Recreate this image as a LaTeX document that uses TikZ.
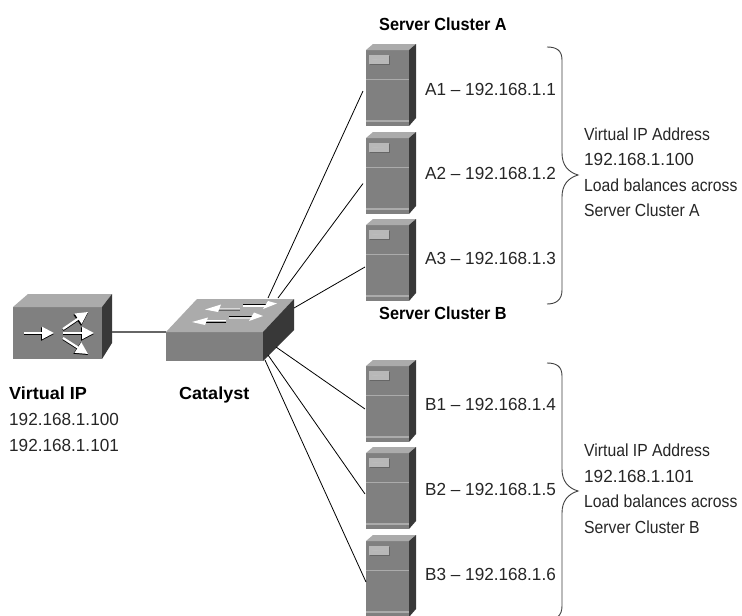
\documentclass[tikz,border=0pt]{standalone}
\usepackage{fontspec}
\setmainfont[FakeStretch=0.9]{Liberation Sans}
\newfontfamily\numfont[FakeStretch=0.98]{Liberation Sans}
\newfontfamily\headfont[FakeStretch=0.93]{Liberation Sans}
\newfontfamily\wideboldfont[FakeStretch=1.03]{Liberation Sans}
\usetikzlibrary{arrows.meta}
\definecolor{frontc}{HTML}{808080}
\definecolor{topc}{HTML}{ABABAB}
\definecolor{sidec}{HTML}{383838}
\definecolor{txtc}{HTML}{262626}
\tikzset{
  face/.style={fill=frontc,draw=none,inner sep=0pt,outer sep=0pt},
  txt/.style={anchor=base west,inner sep=0pt,text=txtc,font=\fontsize{17.5}{20}\selectfont},
  ntxt/.style={anchor=base west,inner sep=0pt,text=txtc,font=\fontsize{17.5}{20}\numfont},
  btxt/.style={anchor=base west,inner sep=0pt,text=black,font=\fontsize{17.5}{20}\headfont\bfseries},
  wbtxt/.style={anchor=base west,inner sep=0pt,text=black,font=\fontsize{17.5}{20}\wideboldfont\bfseries},
  linkline/.style={draw=black,line width=0.8pt},
  bracel/.style={draw=black!75,line width=0.9pt},
}
% name, x of front left, y of front top
\newcommand{\srv}[3]{%
  \node[face,minimum width=43pt,minimum height=76pt] (#1) at (#2+21.5,#3+38) {};
  \fill[topc] (#2,#3) -- (#2+7,#3-6) -- (#2+50,#3-6) -- (#2+43,#3) -- cycle;
  \fill[sidec] (#2+43,#3) -- (#2+50,#3-6) -- (#2+50,#3+68) -- (#2+43,#3+76) -- cycle;
  \fill[black!60] (#2+3.5,#3+5.5) rectangle (#2+23.5,#3+14.5);
  \fill[black!28] (#2+3,#3+5) rectangle (#2+22.5,#3+13.5);
  \draw[white!75!black,line width=0.4pt] (#2+6,#3+9.5) -- (#2+19,#3+9);
  \draw[topc,line width=0.8pt] (#2,#3+29.5) -- (#2+43,#3+29.5);
  \draw[topc,line width=1.2pt] (#2,#3+71) -- (#2+43,#3+71);
}
% brace: tip y
\newcommand{\brc}[1]{%
  \draw[bracel] (547,#1-128) .. controls (556,#1-128) and (562,#1-125) .. (562,#1-115)
    -- (562,#1-22) .. controls (562,#1-10) and (568,#1-3) .. (578,#1)
    .. controls (568,#1+3) and (562,#1+10) .. (562,#1+22)
    -- (562,#1+115) .. controls (562,#1+125) and (556,#1+129) .. (547,#1+129);
}
% white arrow with dark edge
\newcommand{\arw}[4]{%
  \draw[black,line width=2.2pt,-{Triangle[length=13pt,width=13pt]}] (#1,#2+1) -- (#3,#4+1);
  \draw[white,line width=2.2pt,-{Triangle[length=12pt,width=12pt]}] (#1,#2) -- (#3,#4);
}
\begin{document}
\begin{tikzpicture}[x=1pt,y=-1pt]
\useasboundingbox (0,0) rectangle (742,616);
\clip (0,0) rectangle (742,616);
\fill[white] (0,0) rectangle (742,616);

% load balancer
\node[face,minimum width=88.5pt,minimum height=52pt] (lb) at (57.5,333) {};
\fill[topc] (13,307) -- (28,294) -- (112,294) -- (102,307) -- cycle;
\fill[sidec] (102,307) -- (112,294) -- (112,343) -- (102,359) -- cycle;
\arw{24}{333}{54}{333}
\arw{63}{329}{88}{312}
\arw{63}{333}{94}{333}
\arw{63}{338}{88}{354}

% catalyst
\node[face,minimum width=97pt,minimum height=29pt] (catalyst) at (214.5,346.5) {};
\fill[topc] (166,332) -- (197,299) -- (294,299) -- (263,332) -- cycle;
\fill[sidec] (263,332) -- (294,299) -- (294,330) -- (263,361) -- cycle;
% switch arrows
\draw[black!60,line width=0.6pt] (240,310) -- (217,310);
\draw[black!15,line width=1.4pt] (240,308.5) -- (217,308.5);
\fill[white] (205,309.5) -- (221,304.5) -- (218,312) -- cycle;
\draw[black,line width=0.7pt] (243,304.5) -- (266,304.5);
\draw[white,line width=1.2pt] (243,306) -- (266,306);
\fill[white] (277,303.5) -- (263,309) -- (268,301) -- cycle;
\draw[black,line width=0.7pt] (226,322) -- (204,322);
\draw[white,line width=1.2pt] (226,320.5) -- (204,320.5);
\fill[white] (192,322) -- (208,317.5) -- (205,325) -- cycle;
\draw[black,line width=0.7pt] (229,316.5) -- (252,316.5);
\draw[black!15,line width=1.2pt] (229,318) -- (252,318);
\fill[white] (263,316) -- (249,321) -- (254,312.5) -- cycle;

% servers
\srv{A1}{366}{50}
\srv{A2}{366}{138}
\srv{A3}{366}{225}
\srv{B1}{366}{366}
\srv{B2}{366}{453}
\srv{B3}{366}{541}

% connectors
\draw[draw=black!60,line width=1.6pt] ([shift={(10.5,-1)}]lb.east) -- (catalyst.north west);
\draw[linkline] ([shift={(5,-34)}]catalyst.north east) -- ([shift={(-3,3)}]A1.west);
\draw[linkline] ([shift={(15,-34)}]catalyst.north east) -- ([shift={(-3,7.5)}]A2.west);
\draw[linkline] ([shift={(31,-24)}]catalyst.north east) -- ([shift={(-1,4)}]A3.west);
\draw[linkline] ([shift={(13,15)}]catalyst.north east) -- ([shift={(-1,5)}]B1.west);
\draw[linkline] ([shift={(5,23)}]catalyst.north east) -- ([shift={(-1,3)}]B2.west);
\draw[linkline] ([shift={(2,28)}]catalyst.north east) -- ([shift={(0,3)}]B3.west);

% braces
\brc{175}
\brc{491}

% labels
\node[btxt] (tA) at (379,30) {Server Cluster A};
\node[btxt] (tB) at (379,319) {Server Cluster B};
\node[wbtxt] (vip) at (9,399) {Virtual IP};
\node[wbtxt] (cat) at (179,399) {Catalyst};
\node[ntxt] (v1) at (9,425) {192.168.1.100};
\node[ntxt] (v2) at (9,451) {192.168.1.101};
\node[ntxt] (la1) at (425,95) {A1 – 192.168.1.1};
\node[ntxt] (la2) at (425,179) {A2 – 192.168.1.2};
\node[ntxt] (la3) at (425,264) {A3 – 192.168.1.3};
\node[ntxt] (lb1) at (425,410) {B1 – 192.168.1.4};
\node[ntxt] (lb2) at (425,495) {B2 – 192.168.1.5};
\node[ntxt] (lb3) at (425,580) {B3 – 192.168.1.6};
\node[txt] (ra1) at (584,140) {Virtual IP Address};
\node[ntxt] (ra2) at (584,165) {192.168.1.100};
\node[txt] (ra3) at (584,191) {Load balances across};
\node[txt] (ra4) at (584,216) {Server Cluster A};
\node[txt] (rb1) at (584,456) {Virtual IP Address};
\node[ntxt] (rb2) at (584,482) {192.168.1.101};
\node[txt] (rb3) at (584,507) {Load balances across};
\node[txt] (rb4) at (584,533) {Server Cluster B};
\end{tikzpicture}
\end{document}
